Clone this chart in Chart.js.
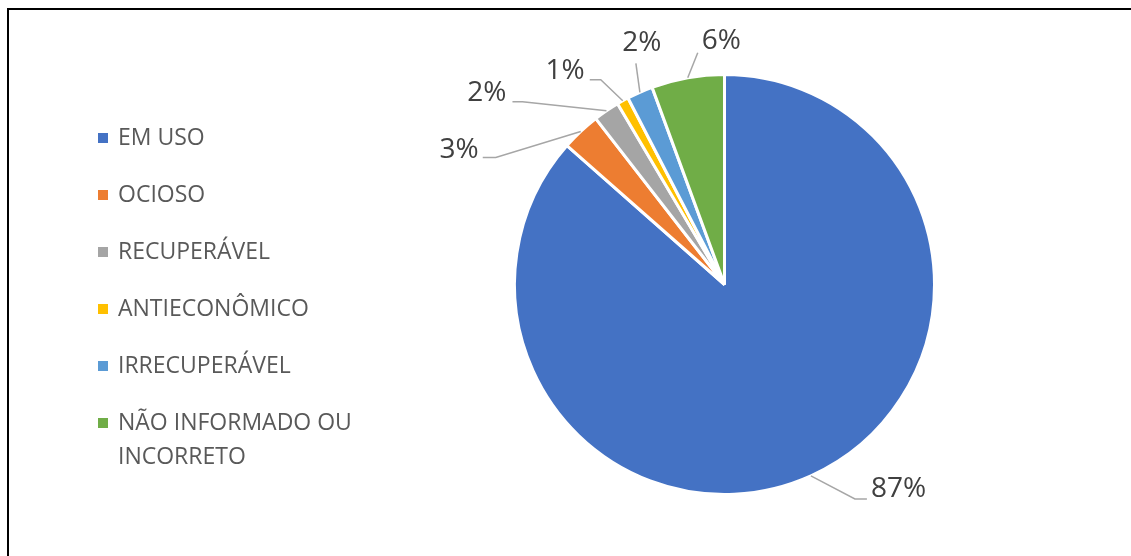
<!DOCTYPE html>
<html>
<head>
<meta charset="utf-8">
<script src="https://cdn.jsdelivr.net/npm/chart.js@4.4.1/dist/chart.umd.min.js"></script>
<style>
    html, body { margin: 0; padding: 0; background: #fff; overflow: hidden; }
    #frame { position: absolute; left: 7px; top: 8px; width: 1200px; height: 700px; border: 2px solid #000; }
    #wrap { position: absolute; left: 0; top: 0; width: 1131px; height: 556px; }
</style>
</head>
<body>
<div id="frame"></div>
<div id="wrap"><canvas id="pieChart"></canvas></div>
<script>
// Dados do gráfico
const categorias = ["EM USO", "OCIOSO", "RECUPERÁVEL", "ANTIECONÔMICO", "IRRECUPERÁVEL", "NÃO INFORMADO OU INCORRETO"];
const valores = [86.5, 3.0, 2.0, 0.9, 2.0, 5.6];
const cores = ["#4472C4", "#ED7D31", "#A5A5A5", "#FFC000", "#5B9BD5", "#70AD47"];

// Posição dos rótulos (relativa ao ponto da borda da fatia)
const guias = [
    { pts: [[44, 23], [56, 23]], txt: [4, -10, "left"] },
    { pts: [[-85, 26], [-98, 26]], txt: [-4, -7, "right"] },
    { pts: [[-84, -9], [-94, -9]], txt: [-6, -9, "right"] },
    { pts: [[-22, -21], [-33, -21]], txt: [-5, -9, "right"] },
    { pts: [[-4, -29]], txt: [6, -20, "center"] },
    { pts: [[10, -25]], txt: [4, -12, "left"] }
];

// Rótulos de porcentagem com linhas guia
const rotulosPlugin = {
    id: "rotulos",
    afterDatasetsDraw(chart) {
        const ctx = chart.ctx;
        const meta = chart.getDatasetMeta(0);
        const total = valores.reduce((a, b) => a + b, 0);
        ctx.save();
        meta.data.forEach((arc, i) => {
            const mid = (arc.startAngle + arc.endAngle) / 2;
            const x0 = arc.x + Math.cos(mid) * arc.outerRadius;
            const y0 = arc.y + Math.sin(mid) * arc.outerRadius;
            const g = guias[i];
            ctx.strokeStyle = "#A6A6A6";
            ctx.lineWidth = 1.5;
            ctx.beginPath();
            ctx.moveTo(x0, y0);
            let ex = x0, ey = y0;
            g.pts.forEach(p => {
                ex = x0 + p[0];
                ey = y0 + p[1];
                ctx.lineTo(ex, ey);
            });
            ctx.stroke();
            ctx.fillStyle = "#404040";
            ctx.font = "28px 'Open Sans'";
            ctx.textAlign = g.txt[2];
            ctx.textBaseline = "middle";
            ctx.fillText(Math.round(valores[i] / total * 100) + "%", ex + g.txt[0], ey + g.txt[1]);
        });
        ctx.restore();
    }
};

// Legenda desenhada à esquerda
const legendaPlugin = {
    id: "legenda",
    afterDraw(chart) {
        const ctx = chart.ctx;
        ctx.save();
        ctx.font = "23px 'Open Sans'";
        ctx.textAlign = "left";
        ctx.textBaseline = "middle";
        let y = 138;
        chart.data.labels.forEach((label, i) => {
            ctx.fillStyle = cores[i];
            ctx.fillRect(98, y - 5, 10, 10);
            // quebra de linha simples
            const palavras = label.split(" ");
            const linhas = [];
            let atual = "";
            palavras.forEach(p => {
                const teste = atual ? atual + " " + p : p;
                if (ctx.measureText(teste).width > 245 && atual) {
                    linhas.push(atual);
                    atual = p;
                } else {
                    atual = teste;
                }
            });
            linhas.push(atual);
            ctx.fillStyle = "#595959";
            linhas.forEach((l, k) => ctx.fillText(l, 118, y + k * 34));
            y += 57;
        });
        ctx.restore();
    }
};

new Chart(document.getElementById("pieChart"), {
    type: "pie",
    data: {
        labels: categorias,
        datasets: [{
            data: valores,
            backgroundColor: cores,
            borderColor: "#fff",
            borderWidth: 3
        }]
    },
    options: {
        responsive: true,
        maintainAspectRatio: false,
        animation: false,
        layout: { padding: { left: 513, right: 195, top: 73, bottom: 60 } },
        plugins: {
            legend: { display: false },
            tooltip: { enabled: false }
        }
    },
    plugins: [rotulosPlugin, legendaPlugin]
});
</script>
</body>
</html>
